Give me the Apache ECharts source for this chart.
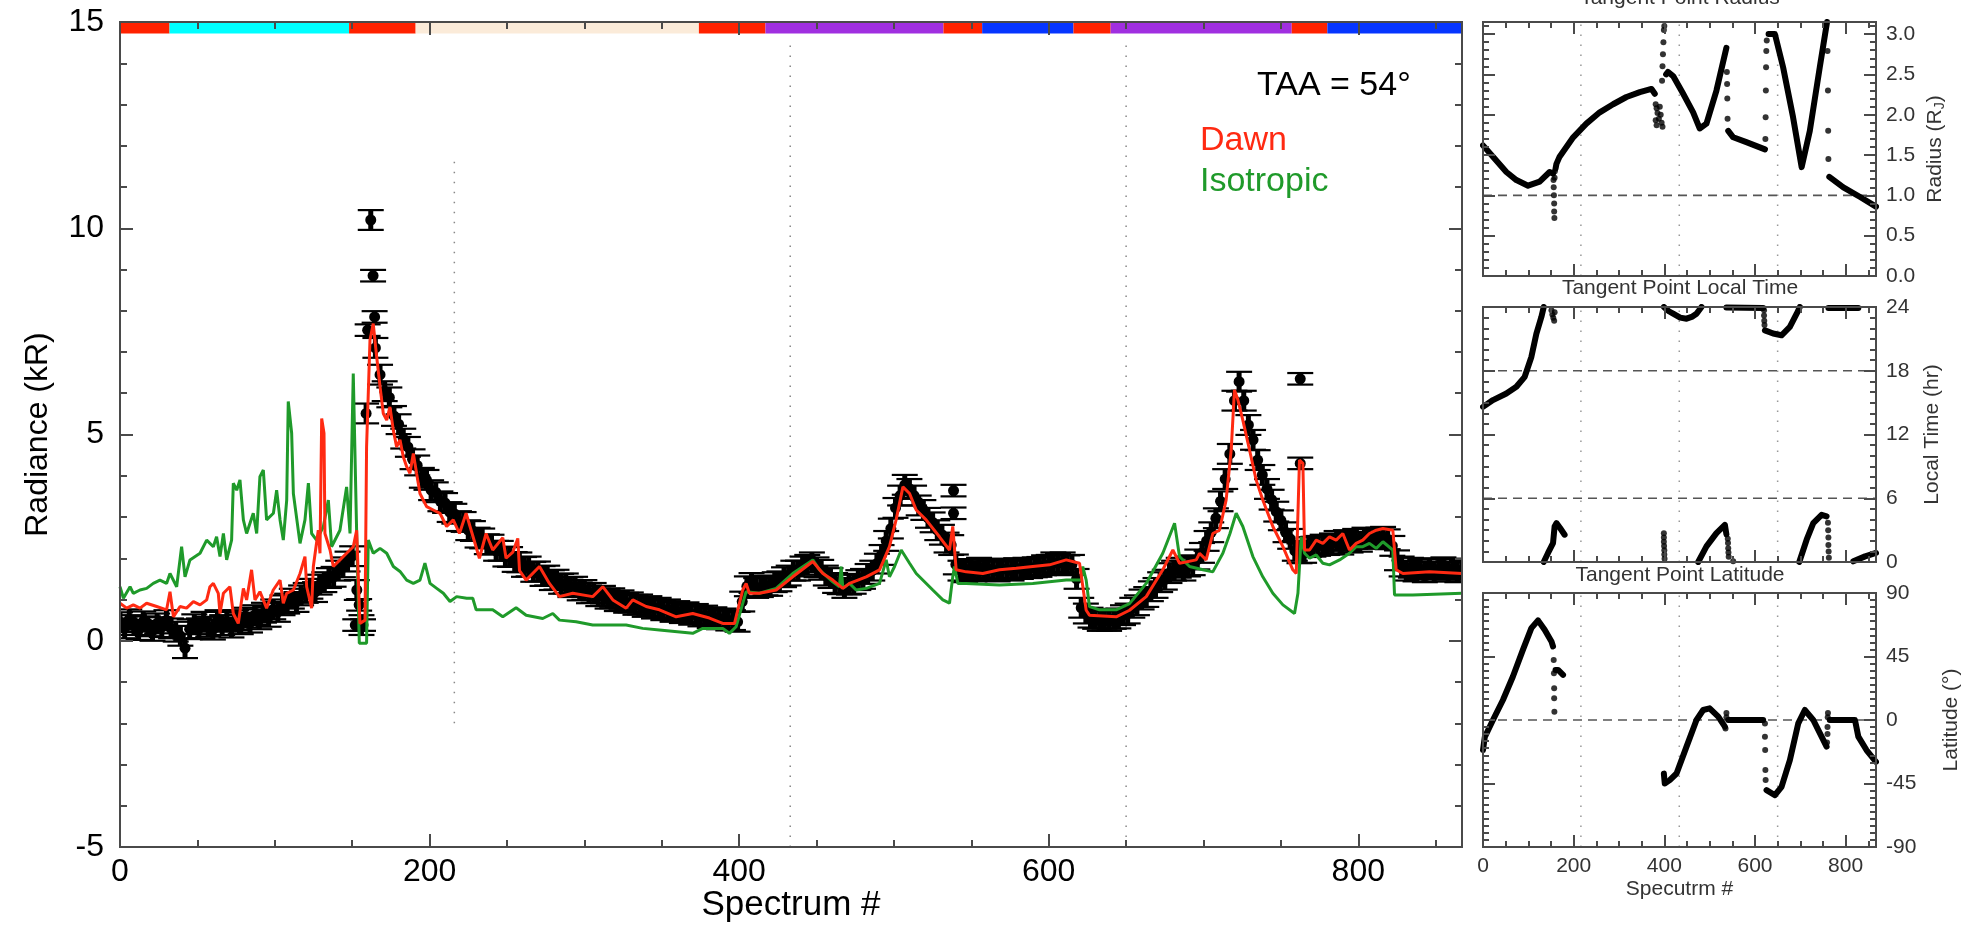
<!DOCTYPE html>
<html><head><meta charset="utf-8">
<script src="https://cdn.jsdelivr.net/npm/echarts@6/dist/echarts.min.js"></script>
<style>html,body{margin:0;padding:0;background:#fff}#c{width:1972px;height:927px}</style>
</head><body><div id="c"></div>
<script>
// ---------------- DATA ----------------
const spectrumMax = 867;
const obsStep = 3; // observations listed every 3rd spectrum, starting at 0
const obsY = [
0.45,0.30,0.52,0.38,0.26,0.47,0.35,0.24,0.42,0.33,
0.50,0.30,0.22,0.12,-0.18,0.28,0.40,0.30,0.46,0.34,
0.27,0.50,0.38,0.46,0.32,0.50,0.40,0.56,0.44,0.62,
0.52,0.68,0.58,0.76,0.70,0.86,0.90,1.02,0.94,1.10,
1.16,1.26,1.18,1.36,1.42,1.52,1.55,1.70,1.78,1.92,
2.05,1.23,0.38,5.51,10.20,7.10,6.45,6.05,5.90,5.45,
5.25,4.90,4.70,4.40,4.25,3.95,3.90,3.65,3.60,3.38,
3.34,3.12,3.08,2.90,2.88,2.68,2.66,2.50,2.48,2.34,
2.33,2.18,2.18,2.04,2.03,1.91,1.90,1.79,1.80,1.67,
1.68,1.57,1.58,1.47,1.48,1.38,1.39,1.30,1.31,1.22,
1.23,1.15,1.16,1.08,1.09,1.02,1.03,0.96,0.98,0.92,
0.93,0.87,0.88,0.82,0.84,0.78,0.80,0.74,0.76,0.70,
0.72,0.67,0.69,0.63,0.65,0.59,0.61,0.55,0.57,0.52,
0.54,0.49,0.50,0.46,0.95,1.32,1.40,1.28,1.30,1.34,
1.33,1.42,1.44,1.54,1.58,1.70,1.70,1.80,1.84,1.90,
1.78,1.72,1.58,1.52,1.40,1.37,1.28,1.36,1.38,1.47,
1.50,1.62,1.70,1.87,2.08,2.42,2.72,3.22,3.52,3.78,
3.68,3.52,3.28,3.17,2.98,2.87,2.68,2.57,2.38,2.32,
1.85,1.70,1.66,1.74,1.68,1.77,1.69,1.74,1.72,1.68,
1.75,1.73,1.70,1.76,1.74,1.77,1.76,1.78,1.79,1.83,
1.84,1.90,1.88,1.90,1.83,1.84,1.50,0.80,0.66,0.56,
0.53,0.48,0.49,0.48,0.53,0.54,0.62,0.66,0.80,0.86,
1.00,1.06,1.20,1.28,1.42,1.48,1.64,1.70,1.77,1.70,
1.80,1.83,1.97,2.13,2.42,2.63,2.97,3.38,3.92,4.53,
5.82,6.28,5.82,5.23,4.87,4.38,4.02,3.68,3.42,3.13,
2.92,2.63,2.47,2.18,2.12,2.13,2.27,2.28,2.30,2.33,
2.32,2.36,2.42,2.33,2.44,2.38,2.47,2.40,2.50,2.48,
2.47,2.50,2.52,2.46,2.30,1.95,1.80,1.70,1.77,1.68,
1.74,1.66,1.76,1.68,1.74,1.78,1.68,1.75,1.66,1.72
];
const obsErr = 0.24;
const obsExtraX = [152, 154.5, 157, 160, 163.5, 164.5, 538.5, 538.5, 762.5, 762.5];
const obsExtraY = [0.38, 0.87, 0.38, 7.53, 8.85, 7.85, 3.64, 3.09, 6.35, 4.30];
const obsExtraErr = 0.14;

const dawn = [
[0,0.91],[4.3,0.79],[8.6,0.87],[12.9,0.79],[17.2,0.91],[23.7,0.83],[30.1,0.75],[32.3,1.19],[34.5,0.58],[38.8,0.83],
[43,0.79],[47.4,0.95],[51.7,0.87],[56,0.99],[58.1,1.31],[60.3,1.39],[63.5,1.15],[64.6,0.66],[66.8,1.15],[71,1.31],
[73.2,0.66],[76.4,0.42],[79.7,1.27],[81.8,0.99],[85,1.72],[87.2,0.99],[90.4,1.19],[94.7,0.79],[99,1.23],[103.4,1.47],
[105.5,0.91],[107.7,1.15],[112,1.23],[116.3,1.63],[119.5,2.04],[120.6,1.31],[123.8,0.79],[124.9,1.8],[128.1,2.68],[129.2,2.12],
[130.3,5.39],[131.8,5.03],[132.4,2.6],[135.7,2.2],[137.8,1.8],[142.1,1.96],[146.4,2.12],[150.7,2.28],[152.9,2.68],[155,0.42],
[158.3,0.5],[159.3,4.7],[161.5,7.29],[163.6,7.69],[165.8,6.89],[168,6.16],[170.1,5.51],[172.3,5.35],[174.4,5.67],[176.6,5.1],
[178.7,4.7],[180.9,4.87],[183,4.46],[185.2,4.22],[187.3,4.06],[189.5,4.54],[191.6,4.06],[193.8,3.57],[198.1,3.25],[202.4,3.17],
[206.7,3.09],[211,2.77],[215.3,2.93],[219.3,2.6],[223.6,3.09],[232.2,2.0],[236.5,2.6],[240.8,2.2],[247.3,2.5],[249.4,2.0],
[253.8,2.15],[257,2.48],[258.1,1.7],[262.4,1.47],[271,1.8],[277.4,1.39],[283.9,1.07],[292.5,1.15],[305.4,1.07],[311.9,1.31],
[318.4,0.99],[327,0.79],[331.3,0.99],[339.9,0.83],[348.5,0.75],[359.3,0.58],[370,0.66],[380.8,0.55],[389.4,0.42],[397,0.42],
[402.3,1.23],[404.5,1.39],[406.6,1.15],[413.1,1.15],[423.9,1.23],[434.6,1.55],[447.6,1.92],[454.1,1.63],[460.5,1.47],[467,1.27],
[471.3,1.39],[482.1,1.55],[490.7,1.72],[497.1,2.28],[501.4,2.93],[505.8,3.73],[510.1,3.57],[514.4,3.17],[520.8,2.93],[529.4,2.52],
[535.9,2.2],[538,2.77],[540.2,1.72],[546.7,1.67],[557.4,1.63],[568.2,1.72],[579,1.76],[589.7,1.8],[600.5,1.84],[611.3,1.96],
[619.9,1.88],[624.2,0.74],[626.3,0.62],[643.6,0.58],[652.2,0.74],[663,1.07],[673.7,1.72],[680.2,2.2],[684.5,1.88],[695.3,1.96],
[697.4,2.12],[701.7,1.96],[706,2.6],[710.3,2.68],[714.6,3.41],[717.9,4.63],[720,6.08],[722.2,5.84],[725.4,5.35],[729.7,4.63],
[734,3.9],[738.3,3.41],[744.8,2.77],[751.3,2.28],[757.7,1.72],[759.9,1.63],[762,4.38],[764.2,4.3],[765.3,2.2],[768.5,2.2],
[772.8,2.44],[777.1,2.36],[781.4,2.52],[785.7,2.44],[790,2.6],[794.3,2.2],[798.6,2.36],[802.9,2.44],[807.2,2.6],[811.6,2.68],
[815.9,2.72],[822.3,2.68],[824.5,1.72],[828.8,1.63],[846,1.67],[867,1.63]
];
const isotropic = [
[0,1.31],[2.2,1.03],[6.5,1.31],[8.6,1.15],[12.9,1.23],[17.2,1.27],[21.5,1.39],[25.8,1.47],[30.1,1.39],[32.3,1.63],
[36.6,1.31],[39.8,2.28],[42,1.55],[45.2,1.96],[51.7,2.12],[56,2.44],[60.3,2.28],[62.4,2.52],[64.6,2.04],[66.8,2.6],
[68.9,1.96],[72.1,2.44],[73.2,3.82],[75.4,3.65],[77.5,3.9],[79.7,2.93],[81.8,2.6],[86.1,3.09],[88.3,2.6],[90.4,3.98],
[92.6,4.14],[94.7,2.93],[99.1,3.09],[101.2,3.65],[103.4,2.93],[105.5,2.44],[107.7,3.41],[108.7,5.8],[110.9,5.03],[112,3.57],
[116.3,2.36],[119.5,2.93],[121.7,3.82],[123.8,2.6],[127,2.44],[131.4,2.77],[134.6,3.41],[136.7,2.28],[142.1,2.68],[146.4,3.73],
[148.6,2.6],[150.7,6.48],[152.9,2.6],[154.6,-0.06],[159.3,-0.06],[160.4,2.44],[163.6,2.12],[168,2.24],[172.3,2.12],[176.6,1.8],
[180.9,1.68],[185.2,1.47],[189.5,1.39],[193.8,1.47],[197,1.88],[200.3,1.39],[204.6,1.27],[208.9,1.15],[213.2,0.95],[217.5,1.07],
[224,1.03],[227.9,1.03],[230.1,0.75],[240.8,0.75],[247.3,0.58],[255.9,0.8],[262.4,0.62],[273.1,0.54],[279.6,0.66],[283.9,0.5],
[294.7,0.46],[305.4,0.38],[327,0.38],[337.7,0.3],[348.5,0.26],[370,0.18],[376.5,0.3],[389.4,0.3],[393.7,0.18],[398,0.34],
[404.5,1.19],[413.1,1.15],[423.9,1.27],[434.6,1.63],[447.6,1.96],[451.9,1.72],[460.5,1.43],[464.8,1.31],[465.9,1.8],[467,1.27],
[471.3,1.39],[475.6,1.23],[482.1,1.27],[490.7,1.39],[495,1.96],[497.1,1.55],[500.4,1.8],[504.7,2.2],[510.1,1.88],[514.4,1.63],
[525.1,1.23],[531.6,0.99],[535.9,0.91],[538,1.55],[539.1,1.8],[541.3,1.39],[546.7,1.39],[568.2,1.35],[589.7,1.39],[611.3,1.47],
[621,1.47],[622,1.8],[624.2,1.47],[626.3,0.83],[632.8,0.75],[643.6,0.75],[652.2,0.9],[663,1.39],[673.7,2.12],[681.3,2.85],
[684.5,2.04],[691,1.8],[699.6,1.72],[706,1.67],[712.5,2.12],[717.1,2.6],[721.1,3.09],[725.4,2.77],[731.9,2.04],[738.3,1.55],
[744.8,1.15],[751.3,0.87],[758.8,0.66],[761,1.15],[763.1,2.52],[765.3,2.12],[768.5,2.0],[772.8,2.08],[777.1,1.88],[781.4,1.84],
[787.9,1.96],[794.3,2.12],[798.6,2.28],[802.9,2.28],[807.2,2.36],[811.6,2.24],[815.9,2.4],[822.3,2.2],[823.4,1.11],[835.2,1.11],
[867,1.15]
];
// colour bar along the top of the main panel (spectrum ranges)
const barStart = [0, 32, 148, 191, 374, 417, 532, 557, 616, 640, 757, 780];
const barEnd   = [32, 148, 191, 374, 417, 532, 557, 616, 640, 757, 780, 867];
const barColor = ['#ff2200','#00ffff','#ff2200','#fbebd9','#ff2200','#a02fe0','#ff2200','#0635ff','#ff2200','#a02fe0','#ff2200','#0635ff'];
// dotted guide lines in main panel: [x, yFrom, yTo]
const mainGuides = [[216,-2,11.8],[433,-5,14.6],[650,-5,14.6]];
const panelGuideX = [216, 433, 650];

// Tangent point radius (R_J)
const radiusSegs = [
 [[0,1.62],[22,1.48],[51.5,1.29],[73.6,1.19],[99.4,1.12],[125,1.17],[147,1.29],[154.5,1.27]],
 [[160,1.33],[162,1.39],[169,1.48],[199,1.72],[228,1.89],[257.6,2.03],[287,2.13],[316.5,2.22],[346,2.28],[371.7,2.32],[379,2.26]],
 [[404,2.5],[408,2.53],[419.5,2.48],[441.6,2.26],[463.6,2.03],[478,1.83],[493,1.89],[515,2.3],[537,2.83]],
 [[541,1.8],[552,1.72],[581,1.66],[622,1.57]],
 [[630,3.0],[644,3.0],[662,2.59],[684,1.97],[703,1.35],[721,1.8],[743,2.59],[759,3.15]],
 [[764,1.23],[795,1.1],[832,0.98],[867,0.86]]
];
const radiusDots = [[155.5,1.19],[156,1.1],[156.5,1.0],[157,0.9],[157,0.8],[157.5,0.72],[158,1.22],[158.5,1.3],
 [381,2.13],[383,2.08],[385,2.02],[381,1.93],[383,1.87],[388,1.95],[392,2.0],[394,1.9],[396,1.85],[390,2.1],
 [395,2.42],[396,2.6],[397,2.75],[398,2.9],[399,3.05],[400,3.1],
 [538,2.53],[538.5,2.38],[539,2.2],[539.5,1.95],
 [623,1.7],[623.5,1.97],[624,2.3],[624.5,2.59],[625,2.79],[626,2.92],
 [760,2.79],[761,2.3],[761.5,1.8],[762,1.45]];
// Tangent point local time (hr)
const ltSegs = [
 [[0,14.6],[22,15.24],[51.5,15.86],[73.6,16.49],[92,17.43],[106.7,19.3],[117.8,21.5],[128.8,23.06],[134,24]],
 [[134,0],[143.5,0.85],[154.5,1.78],[158,3.35],[162,3.66],[170,3.2],[180,2.57]],
 [[399,24],[410,23.6],[419.5,23.37],[435,23.0],[449,22.9],[462,23.1],[471,23.37],[482,24]],
 [[474.7,0],[493,1.47],[515,2.72],[533.6,3.5],[537,2.6]],
 [[537,23.95],[618,23.9]],
 [[622,21.8],[640,21.5],[658.6,21.34],[677,22.12],[692,23.37],[699,24]],
 [[697.7,0],[714,2.1],[728.6,3.66],[747,4.44],[758,4.29]],
 [[762,23.9],[828,23.9]],
 [[817,0.06],[843,0.53],[867,0.85]]
];
const ltDots = [[151,23.7],[153,23.3],[155,23.0],[157,22.7],[158,23.5],
 [399,2.7],[399,2.3],[399,1.9],[399.5,1.5],[400,1.1],[400,0.7],[400.5,0.3],
 [540,2.2],[540.5,1.8],[541,1.3],[541.5,0.9],[542,0.5],[552,0.06],
 [620,23.7],[620,23.2],[620.5,22.7],[621,22.3],
 [761,3.7],[761.5,3.0],[762,2.3],[762,1.6],[762.5,1.0],[763,0.4]];
// Tangent point latitude (deg)
const latSegs = [
 [[0,-21.3],[4,-12],[22,0],[44,14.2],[66,30.8],[88,49.7],[106.7,65.1],[121.4,70.6],[136,64],[151,55.7],[154.5,52.1]],
 [[160,35.5],[165.6,35.5],[176.6,32]],
 [[399,-38],[401,-45],[412,-42.6],[427,-37.9],[449,-18.9],[471,0],[485.7,7.1],[500,8.3],[519,2.4],[533.6,-4.7]],
 [[541,0],[618,0]],
 [[625.5,-49.7],[644,-53.3],[658.6,-47.4],[677,-28.4],[695.5,-2.4],[710,7.1],[728.6,0],[747,-11.8],[758,-18.9]],
 [[765,0],[820.6,0],[828,-11.8],[846,-21.3],[867,-29.6]]
];
const latDots = [[156,42.6],[156.5,33.2],[157,22.5],[157,15.4],[157.5,5.9],
 [535,-6],[537,5],[537,2],
 [622,-2.4],[622,-11.8],[622.5,-21.3],[623,-35.5],[623.5,-42.6],
 [759,-16],[760,-10],[760,-5],[760.5,2],[761,5]];

// tick labels
const xMajor = [0,200,400,600,800];
const mainYMajor = [-5,0,5,10,15];
const radYMajor = [0,0.5,1,1.5,2,2.5,3];
const ltYMajor = [0,6,12,18,24];
const latYMajor = [-90,-45,0,45,90];

// ---------------- BUILD ----------------
const FONT = 'Liberation Sans';
const AXC = '#4a4a4a';
function minors(min, max, step, majors) {
  const a = [];
  const n = Math.round((max - min) / step);
  for (let i = 0; i <= n; i++) {
    const v = Math.round((min + i * step) * 1000) / 1000;
    if (!majors.some(m => Math.abs(m - v) < 1e-6)) a.push(v);
  }
  return a;
}
const grids = [], xAxes = [], yAxes = [];
function axis(list, g, pos, min, max, interval, vals, len, label, extra) {
  const o = {
    gridIndex: g, type: 'value', position: pos, min: min, max: max, interval: interval, z: 10,
    axisLine: { show: true, onZero: false, lineStyle: { color: AXC, width: 2 } },
    axisTick: { show: true, inside: true, length: len, customValues: vals, lineStyle: { color: AXC, width: 2 } },
    axisLabel: label ? Object.assign({ show: true, inside: false, customValues: vals }, label) : { show: false },
    splitLine: { show: false }, minorTick: { show: false }, nameMoveOverlap: false
  };
  Object.assign(o, extra || {});
  list.push(o);
  return list.length - 1;
}
function panel(rect, xr, yr, o) {
  grids.push(Object.assign({ containLabel: false, outerBoundsMode: 'none' }, rect));
  const g = grids.length - 1;
  const xMin = minors(xr[0], xr[1], xr[3], xr[2]);
  const yMin = minors(yr[0], Math.floor(yr[1] / yr[3] + 1e-6) * yr[3], yr[3], yr[2]);
  const xi = axis(xAxes, g, 'bottom', xr[0], xr[1], xr[4], xr[2], o.maj, o.xLabel, o.xName);
  axis(xAxes, g, 'bottom', xr[0], xr[1], xr[4], xMin, o.min, null);
  axis(xAxes, g, 'top', xr[0], xr[1], xr[4], xr[2], o.maj, null);
  axis(xAxes, g, 'top', xr[0], xr[1], xr[4], xMin, o.min, null);
  const yi = axis(yAxes, g, 'left', yr[0], yr[1], yr[4], yr[2], o.maj, o.yLeftLabel, o.yLeftName);
  axis(yAxes, g, 'left', yr[0], yr[1], yr[4], yMin, o.min, null);
  axis(yAxes, g, 'right', yr[0], yr[1], yr[4], yr[2], o.maj, o.yRightLabel, o.yRightName);
  axis(yAxes, g, 'right', yr[0], yr[1], yr[4], yMin, o.min, null);
  return { g: g, x: xi, y: yi };
}
const mainLbl = { color: '#000', fontSize: 32, fontFamily: FONT };
const P0 = panel({ left: 120, top: 22, width: 1342, height: 825 },
  [0, spectrumMax, xMajor, 50, 200], [-5, 15, mainYMajor, 1, 5],
  { maj: 13, min: 7,
    xLabel: Object.assign({ margin: 9 }, mainLbl),
    xName: { name: 'Spectrum #', nameLocation: 'middle', nameGap: 41, nameTextStyle: { color: '#000', fontSize: 35, fontFamily: FONT } },
    yLeftLabel: Object.assign({ margin: 16, align: 'right' }, mainLbl),
    yLeftName: { name: 'Radiance (kR)', nameLocation: 'middle', nameGap: 66, nameTextStyle: { color: '#000', fontSize: 32, fontFamily: FONT } }
  });
const pLbl = { color: '#333', fontSize: 21, fontFamily: FONT, margin: 10, align: 'left' };
const pName = (n, gap, rich) => ({ name: n, nameLocation: 'middle', nameRotate: 90, nameGap: gap,
  nameTextStyle: Object.assign({ color: '#333', fontSize: 21, fontFamily: FONT }, rich ? { rich: rich } : {}) });
const P1 = panel({ left: 1483, top: 22, width: 393, height: 254 },
  [0, spectrumMax, xMajor, 50, 200], [0, 3.15, radYMajor, 0.1, 0.5],
  { maj: 12, min: 6,
    yRightLabel: Object.assign({ formatter: v => Number(v).toFixed(1) }, pLbl),
    yRightName: pName('{a|Radius (R}{s|J}{a|)}', 48, {
      a: { fontSize: 21, color: '#333', fontFamily: FONT },
      s: { fontSize: 14, color: '#333', fontFamily: FONT, padding: [9, 0, 0, 0] } })
  });
const P2 = panel({ left: 1483, top: 307, width: 393, height: 255 },
  [0, spectrumMax, xMajor, 50, 200], [0, 24, ltYMajor, 1, 6],
  { maj: 12, min: 6, yRightLabel: pLbl, yRightName: pName('Local Time (hr)', 46) });
const P3 = panel({ left: 1483, top: 593, width: 393, height: 254 },
  [0, spectrumMax, xMajor, 50, 200], [-90, 90, latYMajor, 5, 45],
  { maj: 12, min: 6, yRightLabel: pLbl, yRightName: pName('Latitude (°)', 65),
    xLabel: Object.assign({}, pLbl, { margin: 9, align: 'center' }),
    xName: { name: 'Specutrm #', nameLocation: 'middle', nameGap: 32, nameTextStyle: { color: '#333', fontSize: 21, fontFamily: FONT } } });

const series = [];
// colour bar
series.push({
  type: 'custom', xAxisIndex: P0.x, yAxisIndex: P0.y, z: 3, clip: true,
  data: barStart.map((s, i) => [s, barEnd[i], i]),
  renderItem: function (params, api) {
    const a = api.coord([api.value(0), 15]);
    const b = api.coord([api.value(1), 14.72]);
    return { type: 'rect', shape: { x: a[0], y: a[1], width: b[0] - a[0], height: b[1] - a[1] },
      style: { fill: barColor[api.value(2)] } };
  }
});
// dotted guide lines, main panel
series.push({
  type: 'custom', xAxisIndex: P0.x, yAxisIndex: P0.y, z: 1,
  data: mainGuides,
  renderItem: function (params, api) {
    const a = api.coord([api.value(0), api.value(1)]);
    const b = api.coord([api.value(0), api.value(2)]);
    return { type: 'line', shape: { x1: a[0], y1: a[1], x2: b[0], y2: b[1] },
      style: { stroke: '#888', lineWidth: 1.5, lineDash: [1.5, 8.5] } };
  }
});
// observations with error bars
const obsData = obsY.map((v, i) => [i * obsStep, v, obsErr]).concat(obsExtraX.map((x, i) => [x, obsExtraY[i], obsExtraErr]));
series.push({
  type: 'custom', xAxisIndex: P0.x, yAxisIndex: P0.y, z: 4, clip: true,
  data: obsData,
  renderItem: function (params, api) {
    const x = api.value(0), y = api.value(1), e = api.value(2);
    const p = api.coord([x, y]), t = api.coord([x, y + e]), b = api.coord([x, y - e]);
    const hw = 13, st = { stroke: '#000', lineWidth: 2.2 };
    return { type: 'group', children: [
      { type: 'rect', shape: { x: p[0] - 2.5, y: t[1], width: 5, height: b[1] - t[1] }, style: { fill: '#000' } },
      { type: 'line', shape: { x1: p[0] - hw, y1: t[1], x2: p[0] + hw, y2: t[1] }, style: st },
      { type: 'line', shape: { x1: p[0] - hw, y1: b[1], x2: p[0] + hw, y2: b[1] }, style: st },
      { type: 'circle', shape: { cx: p[0], cy: p[1], r: 5.5 }, style: { fill: '#000' } }
    ] };
  }
});
series.push({ type: 'line', name: 'Isotropic', xAxisIndex: P0.x, yAxisIndex: P0.y, z: 5, data: isotropic,
  symbol: 'none', lineStyle: { color: '#1f9a2a', width: 3 }, clip: true });
series.push({ type: 'line', name: 'Dawn', xAxisIndex: P0.x, yAxisIndex: P0.y, z: 6, data: dawn,
  symbol: 'none', lineStyle: { color: '#ff2a12', width: 3 }, clip: true });

// small panels
function panelSeries(P, segs, dots, refs, yr) {
  series.push({
    type: 'custom', xAxisIndex: P.x, yAxisIndex: P.y, z: 1,
    data: panelGuideX.map(x => [x]),
    renderItem: function (params, api) {
      const a = api.coord([api.value(0), yr[0]]), b = api.coord([api.value(0), yr[1]]);
      return { type: 'line', shape: { x1: a[0], y1: a[1], x2: b[0], y2: b[1] },
        style: { stroke: '#999', lineWidth: 1.5, lineDash: [1.5, 8.5] } };
    }
  });
  series.push({
    type: 'custom', xAxisIndex: P.x, yAxisIndex: P.y, z: 1,
    data: refs.map(v => [v]),
    renderItem: function (params, api) {
      const a = api.coord([0, api.value(0)]), b = api.coord([spectrumMax, api.value(0)]);
      return { type: 'line', shape: { x1: a[0], y1: a[1], x2: b[0], y2: b[1] },
        style: { stroke: '#555', lineWidth: 1.6, lineDash: [9, 6] } };
    }
  });
  segs.forEach(s => series.push({ type: 'line', xAxisIndex: P.x, yAxisIndex: P.y, z: 3, data: s,
    symbol: 'none', clip: true, lineStyle: { color: '#000', width: 6, cap: 'round', join: 'round' } }));
  series.push({ type: 'scatter', xAxisIndex: P.x, yAxisIndex: P.y, z: 3, data: dots, clip: true,
    symbol: 'circle', symbolSize: 6, itemStyle: { color: '#000' } });
}
panelSeries(P1, radiusSegs, radiusDots, [1.0], [0, 3.15]);
panelSeries(P2, ltSegs, ltDots, [6, 18], [0, 24]);
panelSeries(P3, latSegs, latDots, [0], [-90, 90]);

const txt = (t, x, y, size, color, align) => ({ type: 'text', x: x, y: y, z: 20,
  style: { text: t, font: size + 'px "' + FONT + '"', fill: color, align: align || 'left', verticalAlign: 'middle' } });

const chart = echarts.init(document.getElementById('c'), null, { renderer: 'canvas' });
chart.setOption({
  animation: false,
  backgroundColor: '#fff',
  grid: grids,
  xAxis: xAxes,
  yAxis: yAxes,
  series: series,
  graphic: [
    txt('TAA = 54°', 1257, 86, 34, '#000'),
    txt('Dawn', 1200, 141, 34, '#ff2a12'),
    txt('Isotropic', 1200, 182, 34, '#1f9a2a'),
    txt('Tangent Point Radius', 1680, -2, 21, '#333', 'center'),
    txt('Tangent Point Local Time', 1680, 288, 21, '#333', 'center'),
    txt('Tangent Point Latitude', 1680, 575, 21, '#333', 'center')
  ]
});
</script></body></html>
